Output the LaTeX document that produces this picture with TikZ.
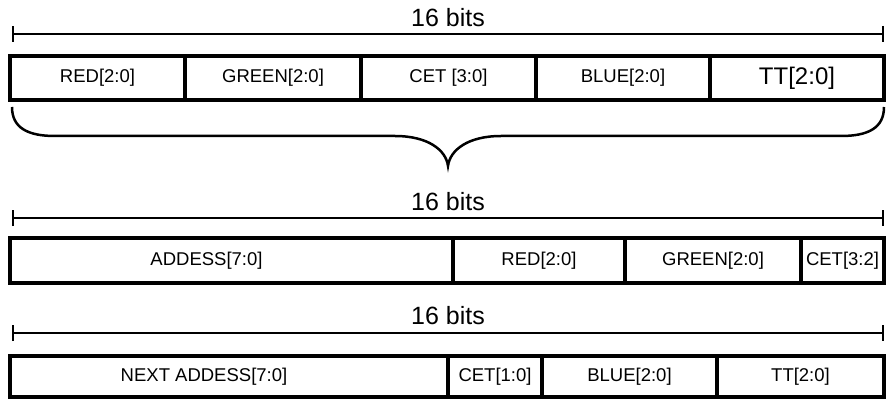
\documentclass[tikz,border=0pt]{standalone}
\usepackage{fontspec}
\setmainfont{Liberation Sans}
\usetikzlibrary{positioning, arrows.meta}

\begin{document}
\begin{tikzpicture}[x=1pt, y=-1pt]
    % Define styles
    \tikzstyle{field}=[draw, line width=3.6pt, rectangle, outer sep=0pt, inner sep=0pt, anchor=west, font=\fontsize{18.5}{20}\selectfont]
    \tikzstyle{rowA}=[field, minimum height=44pt]
    \tikzstyle{rowB}=[field, minimum height=45pt]
    \tikzstyle{rowC}=[field, minimum height=41pt]
    \tikzstyle{width_label}=[font=\fontsize{25}{28}\selectfont, inner sep=0pt]
    \tikzstyle{width_line}=[line width=1.8pt, {Bar[width=16pt]}-{Bar[width=16pt]}]
    \tikzstyle{brace_line}=[line width=2.5pt]

    \useasboundingbox (0,0) rectangle (889,401);

    % --- 1. First word ---
    \node[width_label] (bitsA) at (448,18) {16 bits};
    \coordinate (bitsA_l) at (12,34);
    \coordinate (bitsA_r) at (884,34);
    \draw[width_line] (bitsA_l) -- (bitsA_r);

    \node[rowA, minimum width=175pt] (redA) at (10,78) {RED[2:0]};
    \node[rowA, minimum width=176pt, right=0pt of redA] (greenA) {GREEN[2:0]};
    \node[rowA, minimum width=175pt, right=0pt of greenA] (cetA) {CET [3:0]};
    \node[rowA, minimum width=174pt, right=0pt of cetA] (blueA) {BLUE[2:0]};
    \node[rowA, minimum width=174pt, right=0pt of blueA, font=\fontsize{24}{26}\selectfont] (ttA) {TT[2:0]};

    % --- 2. Brace under the first word ---
    \coordinate (braceL) at (12,107);
    \coordinate (braceR) at (884,107);
    \coordinate (braceTip) at (448,166);
    \draw[brace_line] (braceL) .. controls (12,128) and (28,136) .. (55,136) -- (395,136)
        .. controls (428,136) and (446,150) .. (braceTip)
        .. controls (450,150) and (468,136) .. (501,136) -- (841,136)
        .. controls (868,136) and (884,128) .. (braceR);

    % --- 3. Second word ---
    \node[width_label] (bitsB) at (448,202) {16 bits};
    \coordinate (bitsB_l) at (12,218);
    \coordinate (bitsB_r) at (884,218);
    \draw[width_line] (bitsB_l) -- (bitsB_r);

    \node[rowB, minimum width=443pt] (addrB) at (10,260.5) {ADDESS[7:0]\hspace*{50pt}};
    \node[rowB, minimum width=172pt, right=0pt of addrB] (redB) {RED[2:0]};
    \node[rowB, minimum width=176pt, right=0pt of redB] (greenB) {GREEN[2:0]};
    \node[rowB, minimum width=83pt, right=0pt of greenB] (cetB) {CET[3:2]};

    % --- 4. Third word ---
    \node[width_label] (bitsC) at (448,316) {16 bits};
    \coordinate (bitsC_l) at (12,333);
    \coordinate (bitsC_r) at (884,333);
    \draw[width_line] (bitsC_l) -- (bitsC_r);

    \node[rowC, minimum width=438pt] (addrC) at (10,376.5) {NEXT ADDESS[7:0]\hspace*{50pt}};
    \node[rowC, minimum width=94pt, right=0pt of addrC] (cetC) {CET[1:0]};
    \node[rowC, minimum width=175pt, right=0pt of cetC] (blueC) {BLUE[2:0]};
    \node[rowC, minimum width=167pt, right=0pt of blueC] (ttC) {TT[2:0]};

\end{tikzpicture}
\end{document}
